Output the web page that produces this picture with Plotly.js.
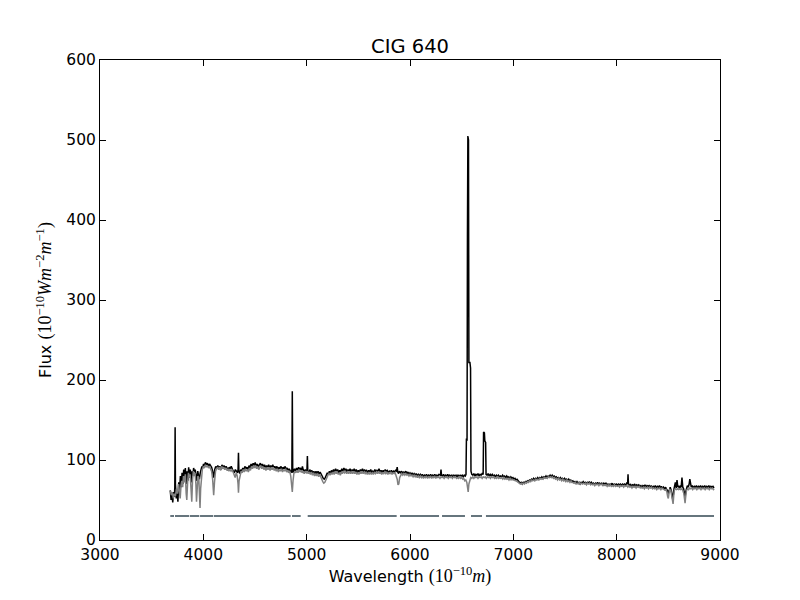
<!DOCTYPE html>
<html>
<head>
<meta charset="utf-8">
<script src="https://cdn.plot.ly/plotly-3.0.1.min.js"></script>
<style>html,body{margin:0;padding:0;background:#fff;}#chart{width:800px;height:600px;}</style>
</head>
<body>
<div id="chart"></div>
<script>
// Observed spectrum: [wavelength (Angstrom), flux]
const observedSpectrum = [
[3680,62],[3688,50],[3696,57],[3704,47],[3712,60],[3720,54],[3724,66],[3727,141],[3730,70],[3738,52],
[3746,60],[3754,48],[3762,72],[3770,62],[3778,80],[3786,66],[3794,84],[3802,70],[3810,88],[3818,75],
[3826,90],[3834,70],[3842,86],[3850,74],[3858,91],[3866,78],[3874,88],[3882,72],[3890,86],[3898,80],
[3906,90],[3914,85],[3922,88],[3930,74],[3938,82],[3946,86],[3954,80],[3962,76],[3970,84],[3978,88],
[3986,92],[3994,90],[4002,95],[4010,93],[4020,97],[4030,94],[4040,96],[4050,92],[4060,95],[4070,93],
[4080,91],[4090,86],[4100,78],[4110,88],[4120,92],[4130,90],[4140,93],[4150,89],[4160,92],[4170,88],
[4180,94],[4190,91],[4200,93],[4210,89],[4220,92],[4230,90],[4240,87],[4250,91],[4260,89],[4270,92],
[4280,88],[4290,86],[4300,84],[4310,88],[4320,86],[4330,84],[4336,88],[4340,109],[4344,86],[4352,83],
[4362,88],[4372,86],[4382,90],[4392,87],[4402,92],[4412,89],[4422,91],[4432,88],[4442,93],[4452,90],
[4462,95],[4472,92],[4482,96],[4492,93],[4502,97],[4512,92],[4522,95],[4532,91],[4542,94],[4552,96],
[4562,92],[4572,95],[4582,91],[4592,94],[4602,90],[4612,93],[4622,91],[4632,94],[4642,90],[4652,93],
[4662,91],[4672,94],[4682,90],[4692,92],[4702,89],[4712,92],[4722,88],[4732,91],[4742,89],[4752,92],
[4762,88],[4772,91],[4782,89],[4792,92],[4802,88],[4812,90],[4822,87],[4832,89],[4842,86],[4852,85],
[4857,88],[4861,186],[4865,84],[4872,86],[4882,89],[4892,86],[4902,90],[4912,87],[4922,91],[4932,88],
[4942,90],[4952,87],[4959,92],[4966,88],[4976,85],[4986,88],[4996,86],[5003,88],[5007,105],[5011,85],
[5020,83],[5030,88],[5040,84],[5050,87],[5060,83],[5070,86],[5080,82],[5090,86],[5100,83],[5110,86],
[5120,82],[5130,85],[5140,81],[5150,80],[5160,77],[5170,76],[5180,78],[5190,81],[5200,84],[5210,82],
[5220,86],[5230,83],[5240,87],[5250,84],[5260,88],[5270,85],[5280,89],[5290,86],[5300,88],[5310,84],
[5320,87],[5330,85],[5340,89],[5350,86],[5360,90],[5370,87],[5380,89],[5390,85],[5400,88],[5410,86],
[5420,89],[5430,85],[5440,88],[5450,86],[5460,89],[5470,85],[5480,88],[5490,84],[5500,87],[5510,85],
[5520,88],[5530,86],[5540,89],[5550,85],[5560,88],[5570,86],[5580,87],[5590,84],[5600,87],[5610,85],
[5620,88],[5630,84],[5640,86],[5650,84],[5660,88],[5670,85],[5680,87],[5690,86],[5700,89],[5710,85],
[5720,87],[5730,84],[5740,87],[5750,85],[5760,88],[5770,86],[5780,87],[5790,84],[5800,86],[5810,85],
[5820,87],[5830,84],[5840,86],[5850,85],[5860,87],[5870,86],[5876,91],[5882,85],[5890,83],[5898,86],
[5910,84],[5920,86],[5930,83],[5940,85],[5950,84],[5960,86],[5970,83],[5980,85],[5990,82],[6000,84],
[6010,82],[6020,84],[6030,81],[6040,83],[6050,81],[6060,83],[6070,80],[6080,82],[6090,80],[6100,82],
[6110,80],[6120,82],[6130,79],[6140,81],[6150,80],[6160,82],[6170,79],[6180,81],[6190,80],[6200,82],
[6210,79],[6220,81],[6230,80],[6240,82],[6250,79],[6260,81],[6270,80],[6280,82],[6295,81],[6300,88],
[6305,81],[6315,80],[6325,82],[6335,79],[6345,81],[6355,80],[6365,82],[6375,79],[6385,81],[6395,80],
[6405,81],[6415,79],[6425,81],[6435,80],[6445,81],[6455,79],[6465,81],[6475,80],[6485,81],[6495,80],
[6505,81],[6515,79],[6525,81],[6535,80],[6542,82],[6546,127],[6552,124],[6556,380],[6560,505],[6566,500],
[6570,222],[6580,222],[6586,215],[6590,86],[6598,82],[6608,81],[6618,83],[6628,80],[6638,82],[6648,81],
[6658,83],[6668,80],[6678,82],[6688,81],[6698,83],[6708,82],[6712,135],[6720,134],[6724,124],[6732,122],
[6736,82],[6746,81],[6756,83],[6766,80],[6776,82],[6786,80],[6796,82],[6806,80],[6816,81],[6826,79],
[6836,81],[6846,80],[6856,81],[6866,79],[6876,80],[6886,79],[6896,81],[6906,79],[6916,80],[6926,78],
[6936,80],[6946,78],[6956,79],[6966,77],[6976,79],[6986,77],[6996,78],[7006,76],[7016,77],[7026,75],
[7036,76],[7046,74],[7056,73],[7066,71],[7076,72],[7086,70],[7096,72],[7106,71],[7116,73],[7126,72],
[7136,74],[7146,73],[7156,75],[7166,74],[7176,76],[7186,75],[7196,77],[7206,75],[7216,77],[7226,76],
[7236,78],[7246,76],[7256,78],[7266,77],[7276,79],[7286,77],[7296,79],[7306,78],[7316,80],[7326,78],
[7336,80],[7346,79],[7356,81],[7366,79],[7376,81],[7386,79],[7396,80],[7406,78],[7416,79],[7426,77],
[7436,78],[7446,76],[7456,78],[7466,76],[7476,77],[7486,75],[7496,77],[7506,75],[7516,76],[7526,74],
[7536,76],[7546,74],[7556,75],[7566,73],[7576,74],[7586,72],[7596,73],[7606,71],[7616,73],[7626,71],
[7636,72],[7646,70],[7656,72],[7666,71],[7676,73],[7686,71],[7696,72],[7706,70],[7716,72],[7726,71],
[7736,73],[7746,70],[7756,72],[7766,70],[7776,71],[7786,69],[7796,71],[7806,70],[7816,72],[7826,69],
[7836,71],[7846,70],[7856,71],[7866,69],[7876,71],[7886,70],[7896,71],[7906,69],[7916,70],[7926,68],
[7936,70],[7946,69],[7956,71],[7966,68],[7976,70],[7986,69],[7996,70],[8006,68],[8016,70],[8026,69],
[8036,70],[8046,68],[8056,70],[8066,69],[8076,70],[8086,68],[8096,71],[8106,70],[8110,82],[8114,70],
[8124,68],[8134,70],[8144,67],[8154,69],[8164,68],[8174,70],[8184,67],[8194,69],[8204,68],[8214,69],
[8224,67],[8234,68],[8244,66],[8254,68],[8264,67],[8274,69],[8284,66],[8294,68],[8304,67],[8314,68],
[8324,66],[8334,68],[8344,65],[8354,67],[8364,66],[8374,68],[8384,65],[8394,67],[8404,66],[8414,68],
[8424,65],[8434,67],[8444,64],[8454,66],[8464,64],[8474,66],[8484,63],[8492,62],[8500,58],[8508,64],
[8518,66],[8528,62],[8536,55],[8544,50],[8552,62],[8560,68],[8568,72],[8576,65],[8584,75],[8592,66],
[8600,68],[8608,64],[8616,67],[8624,66],[8632,78],[8640,66],[8648,64],[8656,58],[8662,54],[8668,60],
[8676,66],[8684,68],[8692,66],[8700,69],[8708,76],[8714,67],[8722,66],[8732,68],[8742,65],[8752,67],
[8762,66],[8772,68],[8782,65],[8792,67],[8802,66],[8812,68],[8822,65],[8832,67],[8842,66],[8852,68],
[8862,65],[8872,67],[8882,66],[8892,68],[8902,65],[8912,67],[8922,66],[8932,67],[8942,65]
];

// Model (synthetic) spectrum: [wavelength (Angstrom), flux]
const modelSpectrum = [
[3680,62],[3690,56],[3700,60],[3710,52],[3720,58],[3730,55],[3740,64],[3750,58],[3760,70],[3770,60],
[3776,52],[3784,68],[3792,74],[3800,66],[3808,80],[3816,72],[3826,82],[3834,58],[3840,50],[3848,72],
[3856,84],[3864,78],[3872,82],[3880,66],[3888,48],[3896,76],[3904,86],[3912,80],[3920,84],[3928,70],
[3934,48],[3940,62],[3948,80],[3956,78],[3962,62],[3968,40],[3974,64],[3982,84],[3990,88],[4000,92],
[4010,90],[4020,94],[4030,91],[4040,93],[4050,90],[4060,92],[4070,89],[4080,86],[4090,76],[4100,56],
[4108,72],[4118,86],[4128,89],[4138,91],[4148,88],[4158,91],[4168,87],[4178,92],[4188,89],[4198,91],
[4208,88],[4218,90],[4228,87],[4238,89],[4248,86],[4258,88],[4268,86],[4278,88],[4288,85],[4298,80],
[4308,78],[4318,84],[4328,80],[4336,70],[4340,59],[4346,74],[4356,82],[4366,86],[4376,84],[4386,88],
[4396,85],[4406,89],[4416,86],[4426,88],[4436,85],[4446,90],[4456,87],[4466,92],[4476,89],[4486,93],
[4496,90],[4506,93],[4516,89],[4526,92],[4536,88],[4546,91],[4556,93],[4566,89],[4576,92],[4586,88],
[4596,91],[4606,87],[4616,90],[4626,88],[4636,91],[4646,87],[4656,90],[4666,88],[4676,91],[4686,87],
[4696,89],[4706,86],[4716,89],[4726,85],[4736,88],[4746,86],[4756,89],[4766,85],[4776,88],[4786,86],
[4796,89],[4806,85],[4816,87],[4826,84],[4836,86],[4846,80],[4854,72],[4861,60],[4868,74],[4876,83],
[4886,86],[4896,84],[4906,87],[4916,84],[4926,88],[4936,85],[4946,87],[4956,84],[4966,86],[4976,83],
[4986,86],[4996,84],[5006,86],[5016,83],[5026,85],[5036,82],[5046,85],[5056,81],[5066,84],[5076,80],
[5086,83],[5096,80],[5106,83],[5116,79],[5126,82],[5136,78],[5146,76],[5156,73],[5166,71],[5176,72],
[5186,75],[5196,79],[5206,81],[5216,83],[5226,81],[5236,84],[5246,82],[5256,85],[5266,82],[5276,86],
[5286,83],[5296,85],[5306,82],[5316,84],[5326,81],[5336,85],[5346,83],[5356,86],[5366,84],[5376,86],
[5386,83],[5396,85],[5406,83],[5416,86],[5426,83],[5436,85],[5446,83],[5456,86],[5466,83],[5476,85],
[5486,82],[5496,84],[5506,82],[5516,85],[5526,83],[5536,86],[5546,83],[5556,85],[5566,83],[5576,85],
[5586,82],[5596,84],[5606,82],[5616,85],[5626,82],[5636,84],[5646,82],[5656,85],[5666,83],[5676,85],
[5686,83],[5696,86],[5706,83],[5716,85],[5726,82],[5736,84],[5746,83],[5756,85],[5766,83],[5776,85],
[5786,82],[5796,84],[5806,83],[5816,85],[5826,82],[5836,84],[5846,83],[5856,84],[5866,81],[5876,76],
[5884,69],[5892,70],[5900,78],[5910,82],[5920,83],[5930,81],[5940,83],[5950,81],[5960,83],[5970,81],
[5980,82],[5990,80],[6000,82],[6010,80],[6020,81],[6030,79],[6040,81],[6050,79],[6060,81],[6070,78],
[6080,80],[6090,78],[6100,80],[6110,78],[6120,80],[6130,77],[6140,79],[6150,78],[6160,80],[6170,77],
[6180,79],[6190,78],[6200,80],[6210,77],[6220,79],[6230,78],[6240,80],[6250,77],[6260,79],[6270,78],
[6280,79],[6290,77],[6300,79],[6310,78],[6320,79],[6330,77],[6340,79],[6350,78],[6360,79],[6370,77],
[6380,79],[6390,78],[6400,79],[6410,77],[6420,79],[6430,78],[6440,79],[6450,77],[6460,78],[6470,77],
[6480,79],[6490,77],[6500,78],[6510,76],[6520,77],[6530,74],[6540,75],[6550,72],[6556,66],[6563,60],
[6570,70],[6578,76],[6588,78],[6598,77],[6608,79],[6618,77],[6628,79],[6638,78],[6648,79],[6658,77],
[6668,79],[6678,78],[6688,79],[6698,77],[6708,79],[6718,78],[6728,79],[6738,77],[6748,79],[6758,78],
[6768,79],[6778,77],[6788,79],[6798,78],[6808,79],[6818,77],[6828,78],[6838,77],[6848,79],[6858,77],
[6868,78],[6878,77],[6888,78],[6898,76],[6908,78],[6918,76],[6928,77],[6938,76],[6948,77],[6958,75],
[6968,77],[6978,75],[6988,76],[6998,75],[7008,75],[7018,74],[7028,74],[7038,73],[7048,72],[7058,71],
[7068,70],[7078,71],[7088,70],[7098,71],[7108,70],[7118,72],[7128,71],[7138,73],[7148,72],[7158,74],
[7168,73],[7178,75],[7188,74],[7198,75],[7208,74],[7218,76],[7228,75],[7238,76],[7248,75],[7258,77],
[7268,76],[7278,77],[7288,76],[7298,78],[7308,77],[7318,78],[7328,77],[7338,79],[7348,78],[7358,79],
[7368,78],[7378,79],[7388,77],[7398,78],[7408,76],[7418,77],[7428,75],[7438,77],[7448,75],[7458,76],
[7468,74],[7478,76],[7488,74],[7498,75],[7508,73],[7518,75],[7528,73],[7538,74],[7548,72],[7558,74],
[7568,72],[7578,72],[7588,71],[7598,72],[7608,70],[7618,71],[7628,70],[7638,72],[7648,70],[7658,71],
[7668,70],[7678,71],[7688,70],[7698,71],[7708,69],[7718,71],[7728,70],[7738,71],[7748,69],[7758,70],
[7768,69],[7778,70],[7788,68],[7798,70],[7808,69],[7818,70],[7828,68],[7838,70],[7848,69],[7858,70],
[7868,68],[7878,69],[7888,68],[7898,69],[7908,67],[7918,69],[7928,68],[7938,69],[7948,67],[7958,68],
[7968,67],[7978,69],[7988,67],[7998,68],[8008,67],[8018,68],[8028,66],[8038,68],[8048,67],[8058,68],
[8068,66],[8078,68],[8088,67],[8098,68],[8108,66],[8118,68],[8128,66],[8138,67],[8148,65],[8158,67],
[8168,66],[8178,67],[8188,65],[8198,67],[8208,66],[8218,67],[8228,65],[8238,66],[8248,65],[8258,66],
[8268,64],[8278,66],[8288,65],[8298,66],[8308,64],[8318,66],[8328,65],[8338,66],[8348,64],[8358,65],
[8368,64],[8378,65],[8388,63],[8398,65],[8408,64],[8418,65],[8428,63],[8438,65],[8448,64],[8458,64],
[8468,62],[8478,63],[8486,60],[8494,54],[8500,52],[8506,58],[8514,63],[8524,62],[8532,56],[8540,47],
[8546,45],[8552,55],[8560,63],[8570,64],[8580,63],[8590,64],[8600,63],[8610,64],[8620,63],[8630,64],
[8640,62],[8650,58],[8656,50],[8662,46],[8668,54],[8676,62],[8686,64],[8696,63],[8706,65],[8716,64],
[8726,65],[8736,63],[8746,65],[8756,64],[8766,65],[8776,63],[8786,65],[8796,64],[8806,65],[8816,63],
[8826,65],[8836,64],[8846,65],[8856,63],[8866,65],[8876,64],[8886,65],[8896,63],[8906,65],[8916,64],
[8926,65],[8936,63],[8944,64]
];

// Fitted wavelength windows (start, end) drawn as the horizontal mask line
const maskStart = [3680, 3726, 3871, 3968, 4103, 4858, 5010, 5903, 6310, 6590, 6735];
const maskEnd   = [3716, 3864, 3961, 4096, 4845, 4942, 5871, 6281, 6532, 6697, 8942];
const maskLevel = 30;

const xTickVals = [3000, 4000, 5000, 6000, 7000, 8000, 9000];
const yTickVals = [0, 100, 200, 300, 400, 500, 600];

const chartTitle = 'CIG 640';

const maskX = [], maskY = [];
maskStart.forEach((s, i) => { maskX.push(s, maskEnd[i], null); maskY.push(maskLevel, maskLevel, null); });

const traces = [
  { x: maskX, y: maskY, mode: 'lines', line: { color: '#66757d', width: 2 }, hoverinfo: 'skip' },
  { x: observedSpectrum.map(p => p[0]), y: observedSpectrum.map(p => p[1]), mode: 'lines',
    line: { color: '#000000', width: 1.5 }, name: 'observed' },
  { x: modelSpectrum.map(p => p[0]), y: modelSpectrum.map(p => p[1]), mode: 'lines',
    line: { color: '#808080', width: 1.5 }, name: 'model' }
];

const FONT = 'DejaVu Sans, sans-serif';
const MATH = "font-family:'Liberation Serif',serif;font-size:18px";

const layout = {
  width: 800, height: 600,
  margin: { l: 100, r: 80, t: 60, b: 60 },
  paper_bgcolor: '#ffffff', plot_bgcolor: '#ffffff',
  showlegend: false,
  font: { family: FONT, size: 15.5, color: '#000' },
  title: { text: chartTitle, font: { family: FONT, size: 19.5, color: '#000' },
           x: 0.5125, xanchor: 'center', y: 1 - 46 / 600, yanchor: 'middle', yref: 'container' },
  xaxis: {
    range: [3000, 9000], tickvals: xTickVals, ticktext: xTickVals.map(String),
    ticks: 'inside', ticklen: 6, tickwidth: 1, tickcolor: '#000',
    showline: true, mirror: 'ticks', linecolor: '#000', linewidth: 1,
    showgrid: false, zeroline: false,
    tickfont: { family: FONT, size: 15.5, color: '#000' },
    title: { text: 'Wavelength <span style="' + MATH + '">(10<sup>−10</sup><i>m</i>)</span>',
             font: { family: FONT, size: 16, color: '#000' }, standoff: 8 }
  },
  yaxis: {
    range: [0, 600], tickvals: yTickVals, ticktext: yTickVals.map(String),
    ticks: 'inside', ticklen: 6, tickwidth: 1, tickcolor: '#000',
    showline: true, mirror: 'ticks', linecolor: '#000', linewidth: 1,
    showgrid: false, zeroline: false,
    tickfont: { family: FONT, size: 15.5, color: '#000' },
    title: { text: 'Flux <span style="' + MATH + '">(10<sup>−10</sup><i>Wm</i><sup>−2</sup><i>m</i><sup>−1</sup>)</span>',
             font: { family: FONT, size: 16, color: '#000' }, standoff: 10 }
  }
};

Plotly.newPlot('chart', traces, layout, { staticPlot: true, displayModeBar: false });
</script>
</body>
</html>
